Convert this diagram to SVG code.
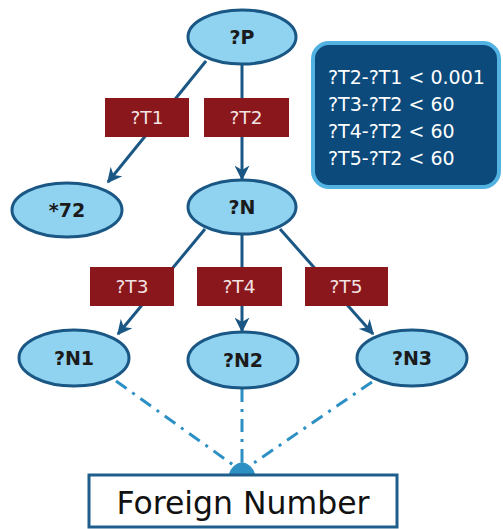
<svg xmlns="http://www.w3.org/2000/svg" width="503" height="529" viewBox="0 0 503 529">
  <style>
    .node ellipse { fill: #8fd3f1; stroke: #1a5784; stroke-width: 3; }
    .node text { font-family: "DejaVu Sans", sans-serif; font-weight: bold; font-size: 19px; fill: #1b1b1b; text-anchor: middle; }
    .edge { stroke: #1a5784; stroke-width: 3; fill: none; marker-end: url(#arrow); }
    .link { stroke: #2d90c5; stroke-width: 3; fill: none; stroke-dasharray: 13 7 3 7; }
    .tag rect { fill: #8a171b; }
    .tag text { font-family: "DejaVu Sans", sans-serif; font-size: 18.5px; fill: #f3e3e3; text-anchor: middle; }
    .cond text { font-family: "DejaVu Sans", sans-serif; font-size: 19px; fill: #ffffff; }
  </style>
  <defs>
    <marker id="arrow" viewBox="0 0 10 10" refX="9" refY="5" markerWidth="5" markerHeight="5" orient="auto" markerUnits="strokeWidth">
      <path d="M0,0 L10,5 L0,10 L3,5 z" fill="#1a5784"/>
    </marker>
  </defs>

  <rect width="503" height="529" fill="#ffffff"/>

  <!-- connectors -->
  <g id="connectors">
    <line class="edge" x1="206" y1="61" x2="108" y2="182"/>
    <line class="edge" x1="242" y1="65" x2="242" y2="179"/>
    <line class="edge" x1="205" y1="229" x2="118" y2="334"/>
    <line class="edge" x1="242" y1="235" x2="242" y2="331"/>
    <line class="edge" x1="280" y1="229" x2="373" y2="334"/>
    <line class="link" x1="116" y1="381" x2="236" y2="467"/>
    <line class="link" x1="242" y1="389" x2="242" y2="466"/>
    <line class="link" x1="372" y1="382" x2="248" y2="467"/>
    <path d="M229,474 Q232,464 242,462 Q252,464 255,474 Z" fill="#2d90c5"/>
  </g>

  <!-- edge labels -->
  <g id="t1" class="tag"><rect x="105" y="98" width="84" height="39"/><text x="147" y="124">?T1</text></g>
  <g id="t2" class="tag"><rect x="204" y="98" width="85" height="39"/><text x="246" y="124">?T2</text></g>
  <g id="t3" class="tag"><rect x="90" y="267" width="84" height="39"/><text x="132" y="293">?T3</text></g>
  <g id="t4" class="tag"><rect x="197" y="267" width="85" height="39"/><text x="239" y="293">?T4</text></g>
  <g id="t5" class="tag"><rect x="305" y="267" width="83" height="39"/><text x="346" y="293">?T5</text></g>

  <!-- nodes -->
  <g id="p" class="node"><ellipse cx="242" cy="37" rx="54" ry="27"/><text x="242" y="44">?P</text></g>
  <g id="n72" class="node"><ellipse cx="67" cy="210" rx="55" ry="27"/><text x="67" y="217">*72</text></g>
  <g id="n" class="node"><ellipse cx="242" cy="207" rx="54" ry="27"/><text x="242" y="214">?N</text></g>
  <g id="n1" class="node"><ellipse cx="74" cy="358" rx="55" ry="28"/><text x="74" y="365">?N1</text></g>
  <g id="n2" class="node"><ellipse cx="243" cy="360" rx="55" ry="28"/><text x="243" y="367">?N2</text></g>
  <g id="n3" class="node"><ellipse cx="412" cy="358" rx="55" ry="28"/><text x="412" y="365">?N3</text></g>

  <!-- time constraints -->
  <g id="constraints" class="cond">
    <rect x="313" y="43" width="186" height="144" rx="16" fill="#0b4a7b" stroke="#52b2e2" stroke-width="4"/>
    <text x="328" y="84">?T2-?T1 &lt; 0.001</text>
    <text x="328" y="111">?T3-?T2 &lt; 60</text>
    <text x="328" y="138">?T4-?T2 &lt; 60</text>
    <text x="328" y="165">?T5-?T2 &lt; 60</text>
  </g>

  <!-- target entity -->
  <g id="foreign">
    <rect x="89" y="475" width="308" height="52" fill="#ffffff" stroke="#1f5e8c" stroke-width="3"/>
    <text x="243" y="514" font-family="DejaVu Sans, sans-serif" font-size="31.5" fill="#111111" text-anchor="middle">Foreign Number</text>
  </g>
</svg>
